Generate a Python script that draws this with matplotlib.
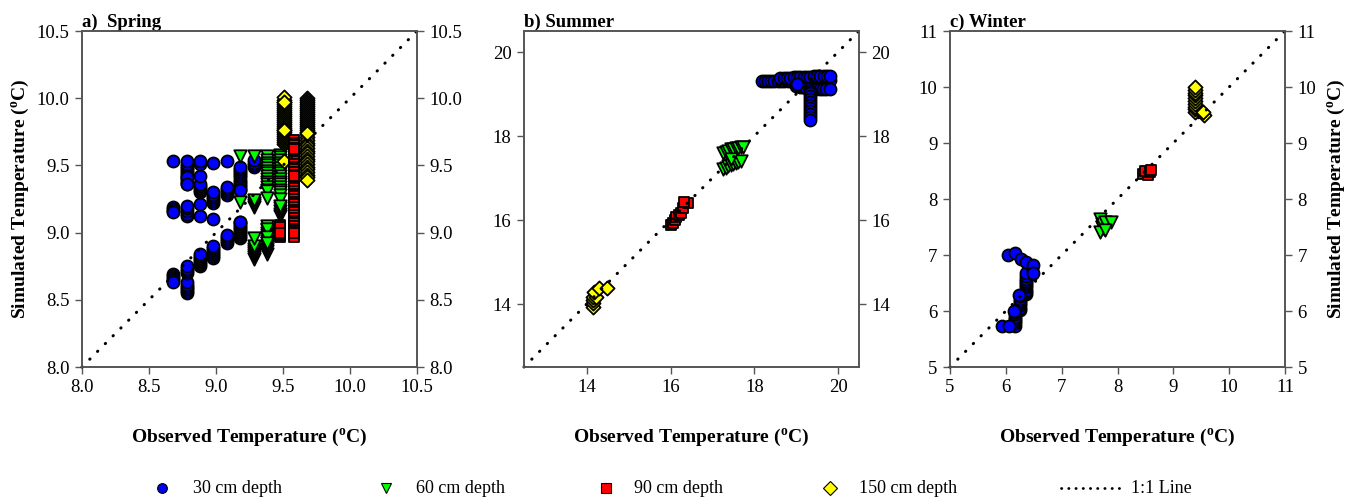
import matplotlib
matplotlib.use("Agg")
import matplotlib.pyplot as plt
from matplotlib.lines import Line2D

plt.rcParams['font.family'] = ['Liberation Serif', 'DejaVu Serif']
plt.rcParams['mathtext.fontset'] = 'custom'
plt.rcParams['mathtext.rm'] = 'Liberation Serif'
plt.rcParams['mathtext.bf'] = 'Liberation Serif:bold'

# ---- a) Spring : observed value per column, simulated values stacked in it
spr30_x = [8.68, 8.78, 8.88, 8.98, 9.08, 9.18, 9.28]
spr30_y = [
    [8.69, 8.675, 8.66, 8.645, 8.63, 9.19, 9.175, 9.16, 9.15, 9.53],
    [8.55, 8.565, 8.58, 8.595, 8.61, 8.63, 8.70, 8.715, 8.73, 8.75,
     9.12, 9.14, 9.16, 9.18, 9.20, 9.36, 9.375, 9.39, 9.405, 9.42,
     9.435, 9.45, 9.465, 9.48, 9.495, 9.51, 9.53, 9.41, 9.36],
    [8.75, 8.765, 8.78, 8.795, 8.81, 8.825, 8.84, 9.12, 9.21, 9.30,
     9.315, 9.33, 9.345, 9.36, 9.42, 9.51, 9.53],
    [8.81, 8.825, 8.84, 8.855, 8.87, 8.885, 8.90, 9.10, 9.22, 9.235,
     9.25, 9.265, 9.28, 9.30, 9.52],
    [8.92, 8.935, 8.95, 8.965, 8.98, 9.28, 9.295, 9.31, 9.325, 9.34, 9.53],
    [8.96, 8.975, 8.99, 9.005, 9.02, 9.035, 9.05, 9.065, 9.08, 9.32,
     9.335, 9.35, 9.365, 9.38, 9.395, 9.41, 9.425, 9.44, 9.455, 9.47,
     9.49, 9.08, 9.32],
    [9.49, 9.505, 9.52, 9.54],
]
spr60_x = [9.18, 9.28, 9.38, 9.48]
spr60_y = [
    [9.57, 9.23],
    [9.57, 9.19, 9.205, 9.22, 9.24, 8.80, 8.815, 8.83, 8.845, 8.86,
     8.875, 8.90, 8.96],
    [9.57, 9.54, 9.52, 9.50, 9.48, 9.46, 9.44, 9.42, 9.40, 9.38,
     9.36, 9.34, 9.32, 9.31, 9.26, 8.84, 8.86, 8.88, 8.90, 8.92,
     8.94, 8.96, 8.98, 9.00, 9.02, 9.05, 9.03, 8.97, 8.92],
    [9.58, 9.56, 9.54, 9.52, 9.50, 9.48, 9.46, 9.44, 9.42, 9.40,
     9.38, 9.36, 9.34, 9.32, 9.30, 9.28, 9.25, 9.12, 9.14, 9.16,
     9.18, 9.20],
]
spr90_x = [9.48, 9.58]
spr90_y = [
    [8.97, 8.985, 9.0, 9.015, 9.03, 9.045, 9.06, 9.04, 9.0],
    [9.69, 9.67, 9.65, 9.63, 9.61, 9.59, 9.57, 9.55, 9.53, 9.51,
     9.49, 9.47, 9.45, 9.43, 9.41, 9.39, 9.37, 9.35, 9.33, 9.31,
     9.29, 9.27, 9.25, 9.23, 9.21, 9.19, 9.17, 9.15, 9.13, 9.11,
     9.09, 9.07, 9.05, 9.03, 9.01, 8.99, 8.97, 9.62, 9.42, 9.00],
]
spr150_x = [9.51, 9.68]
spr150_y = [
    [9.66, 9.675, 9.69, 9.705, 9.72, 9.735, 9.75, 9.765, 9.78, 9.795,
     9.81, 9.825, 9.84, 9.855, 9.87, 9.885, 9.90, 9.915, 9.93, 9.945,
     9.96, 9.975, 9.99, 10.01, 9.97, 9.76, 9.53],
    [10.0, 9.985, 9.97, 9.955, 9.94, 9.925, 9.91, 9.895, 9.88, 9.865,
     9.85, 9.835, 9.82, 9.805, 9.79, 9.775, 9.76, 9.745, 9.73, 9.71,
     9.69, 9.67, 9.65, 9.63, 9.61, 9.59, 9.57, 9.55, 9.53, 9.51,
     9.49, 9.47, 9.45, 9.43, 9.41, 9.39, 9.74],
]

# ---- b) Summer
sum30_x = [18.18, 18.25, 18.32, 18.40, 18.48, 18.56, 18.64, 18.72, 18.80,
           18.88, 18.96, 19.04, 19.12, 19.20, 19.28, 19.36, 19.44, 19.52,
           19.60, 19.68, 19.76, 19.80,
           18.62, 18.70, 18.78, 18.86, 18.94, 19.02, 19.10, 19.18, 19.26,
           19.34, 19.42, 19.50, 19.58, 19.66, 19.74, 19.80,
           19.00, 19.08, 19.16, 19.24, 19.32, 19.40, 19.48, 19.56, 19.64,
           19.72, 19.80,
           19.34, 19.34, 19.34, 19.34, 19.34, 19.34, 19.34, 19.34, 19.34,
           19.34, 19.34, 19.03]
sum30_y = [19.30, 19.30, 19.30, 19.30, 19.30, 19.31, 19.31, 19.31, 19.31,
           19.31, 19.32, 19.32, 19.32, 19.32, 19.32, 19.33, 19.33, 19.33,
           19.33, 19.33, 19.33, 19.33,
           19.38, 19.38, 19.39, 19.39, 19.40, 19.40, 19.40, 19.41, 19.41,
           19.41, 19.42, 19.42, 19.42, 19.43, 19.43, 19.43,
           19.18, 19.17, 19.16, 19.15, 19.14, 19.13, 19.13, 19.12, 19.12,
           19.12, 19.12,
           19.08, 19.02, 18.95, 18.88, 18.81, 18.74, 18.67, 18.60, 18.52,
           18.45, 18.38, 19.25]
sum60_x = [17.26, 17.32, 17.38, 17.44, 17.50, 17.56, 17.62, 17.68, 17.72,
           17.26, 17.32, 17.38, 17.44, 17.50, 17.56, 17.62, 17.68, 17.45]
sum60_y = [17.60, 17.62, 17.65, 17.68, 17.70, 17.72, 17.72, 17.73, 17.74,
           17.22, 17.25, 17.28, 17.30, 17.33, 17.35, 17.38, 17.40, 17.45]
sum90_x = [16.02, 16.05, 16.10, 16.14, 16.20, 16.26, 16.30, 16.42, 16.32]
sum90_y = [15.88, 15.92, 16.0, 16.08, 16.12, 16.16, 16.28, 16.40, 16.44]
sum150_x = [14.14, 14.14, 14.14, 14.14, 14.22, 14.18, 14.30, 14.48]
sum150_y = [13.93, 14.02, 14.09, 14.17, 14.17, 14.29, 14.37, 14.37]

# ---- c) Winter
win30_x = [6.16, 6.16, 6.16, 6.16, 6.16, 6.16, 6.16, 6.25, 6.25, 6.25,
           6.25, 6.25, 6.25, 6.25, 6.36, 6.36, 6.36, 6.36, 6.36, 6.36,
           6.36, 6.36, 6.36, 6.46, 6.46, 6.46,
           5.94, 6.06, 6.15, 6.24, 6.37, 6.46,
           6.04, 6.16, 6.28, 6.37, 6.48, 6.48]
win30_y = [5.74, 5.78, 5.82, 5.86, 5.90, 5.94, 5.98, 6.02, 6.06, 6.10,
           6.14, 6.18, 6.22, 6.26, 6.30, 6.34, 6.38, 6.42, 6.46, 6.50,
           6.54, 6.58, 6.62, 6.66, 6.72, 6.78,
           5.73, 5.73, 6.0, 6.28, 6.68, 6.79,
           7.0, 7.03, 6.92, 6.88, 6.83, 6.67]
win60_x = [7.73, 7.73, 7.75, 7.72, 7.68, 7.77, 7.89, 7.68, 7.77]
win60_y = [7.55, 7.50, 7.47, 7.50, 7.65, 7.59, 7.59, 7.41, 7.44]
win90_x = [8.46, 8.55, 8.50, 8.58, 8.60]
win90_y = [8.45, 8.42, 8.50, 8.48, 8.52]
win150_x = [9.38, 9.38, 9.38, 9.38, 9.38, 9.38, 9.38, 9.38, 9.38, 9.55,
            9.53, 9.38]
win150_y = [9.55, 9.60, 9.65, 9.70, 9.75, 9.80, 9.85, 9.90, 9.95, 9.50,
            9.56, 10.0]

depth_labels = ['30 cm depth', '60 cm depth', '90 cm depth', '150 cm depth']
colors = ['#0000ff', '#00ff00', '#ff0000', '#ffff00']
markers = ['o', 'v', 's', 'D']
sizes = [75, 80, 48, 52]


def flatten(cols_x, cols_y):
    xs, ys = [], []
    for x, col in zip(cols_x, cols_y):
        for y in col:
            xs.append(x)
            ys.append(y)
    return xs, ys


spring = [flatten(spr30_x, spr30_y), flatten(spr60_x, spr60_y),
          flatten(spr90_x, spr90_y), flatten(spr150_x, spr150_y)]
summer = [(sum30_x, sum30_y), (sum60_x, sum60_y),
          (sum90_x, sum90_y), (sum150_x, sum150_y)]
winter = [(win30_x, win30_y), (win60_x, win60_y),
          (win90_x, win90_y), (win150_x, win150_y)]

panels = [
    ('a)  Spring', spring, (8.0, 10.5), [8.0, 8.5, 9.0, 9.5, 10.0, 10.5], '%.1f'),
    ('b) Summer', summer, (12.5, 20.5), [14, 16, 18, 20], '%d'),
    ('c) Winter', winter, (5, 11), [5, 6, 7, 8, 9, 10, 11], '%d'),
]
lefts = [82, 524, 950]
W, H = 1354, 498
unit = r'($\mathbf{^o}$C)'
spine_col = '#555555'

fig = plt.figure(figsize=(W / 100, H / 100), dpi=100)
for (title, series, lim, ticks, fmt), left in zip(panels, lefts):
    ax = fig.add_axes([left / W, 1 - 367 / H, 335 / W, 336 / H])
    order = [0, 1, 3, 2]  # yellow under red where they touch
    for i in order:
        xs, ys = series[i]
        ax.scatter(xs, ys, s=sizes[i], c=colors[i], marker=markers[i],
                   edgecolors='k', linewidths=1.3, zorder=3)
    ax.plot(lim, lim, color='k', lw=2.2, linestyle=(0, (0.1, 3.5)),
            dash_capstyle='round', zorder=5, clip_on=False)
    ax.set_xlim(lim)
    ax.set_ylim(lim)
    ax.set_xticks(ticks)
    ax.set_yticks(ticks)
    ax.set_xticklabels([fmt % t for t in ticks])
    ax.set_yticklabels([fmt % t for t in ticks])
    ax2 = ax.twinx()
    ax2.set_ylim(lim)
    ax2.set_yticks(ticks)
    ax2.set_yticklabels([fmt % t for t in ticks])
    for a in (ax, ax2):
        a.tick_params(direction='out', length=5, width=1, color=spine_col,
                      labelsize=13.5, pad=4)
        for sp in a.spines.values():
            sp.set_color(spine_col)
            sp.set_linewidth(1.2)
    ax.set_title(title, loc='left', fontweight='bold', fontsize=13.5, pad=2)
    fig.text((left + 167.5) / W, 1 - 437 / H, 'Observed Temperature ' + unit,
             ha='center', va='center', fontweight='bold', fontsize=14)

fig.text(20 / W, 1 - 199 / H, 'Simulated Temperature ' + unit, rotation=90,
         ha='center', va='center', fontweight='bold', fontsize=14)
fig.text(1336 / W, 1 - 199 / H, 'Simulated Temperature ' + unit, rotation=90,
         ha='center', va='center', fontweight='bold', fontsize=14)

# legend row along the bottom
ly = 1 - 488 / H
for mx, tx, lab, c, m in zip([162, 386, 606, 830], [193, 416, 634, 859],
                             depth_labels, colors, markers):
    fig.add_artist(Line2D([mx / W], [ly], transform=fig.transFigure,
                          marker=m, markersize=7, color=c,
                          markeredgecolor='k', markeredgewidth=0.8,
                          linestyle='none'))
    fig.text(tx / W, ly, lab, ha='left', va='center', fontsize=13)
fig.add_artist(Line2D([1061 / W, 1122 / W], [ly, ly], transform=fig.transFigure,
                      color='k', lw=2.0, linestyle=(0, (0.1, 2.5)),
                      dash_capstyle='round'))
fig.text(1131 / W, ly, '1:1 Line', ha='left', va='center', fontsize=13)

fig.savefig('out.png', dpi=100)
